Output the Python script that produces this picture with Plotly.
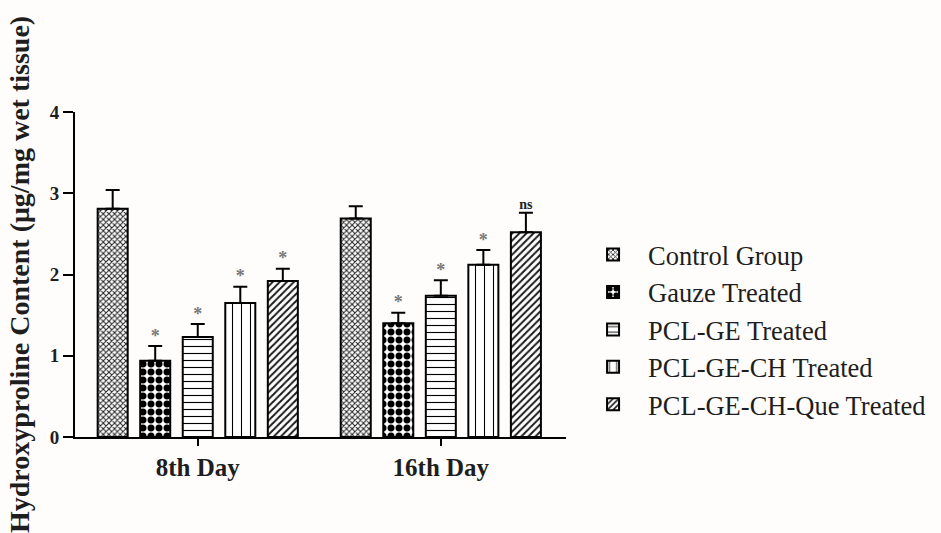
import plotly.graph_objects as go

# Hydroxyproline content (mean ± SEM) on days 8 and 16
days = ["8th Day", "16th Day"]
groups = ["Control Group", "Gauze Treated", "PCL-GE Treated",
          "PCL-GE-CH Treated", "PCL-GE-CH-Que Treated"]
control_mean = [2.81, 2.69]
control_sem = [0.23, 0.15]
gauze_mean = [0.94, 1.40]
gauze_sem = [0.18, 0.13]
pclge_mean = [1.23, 1.74]
pclge_sem = [0.16, 0.19]
pclgech_mean = [1.65, 2.12]
pclgech_sem = [0.20, 0.18]
que_mean = [1.92, 2.52]
que_sem = [0.15, 0.24]
significance = [["", ""], ["*", "*"], ["*", "*"], ["*", "*"], ["*", "ns"]]

means = [control_mean, gauze_mean, pclge_mean, pclgech_mean, que_mean]
sems = [control_sem, gauze_sem, pclge_sem, pclgech_sem, que_sem]

# fill patterns for each treatment group
patterns = [
    dict(shape="x", size=4, solidity=0.45, fgcolor="#222222", fgopacity=1),
    dict(shape=".", size=8, solidity=0.6, fgcolor="black", fgopacity=1),
    dict(shape="-", size=7, solidity=0.16, fgcolor="black", fgopacity=1),
    dict(shape="|", size=9, solidity=0.12, fgcolor="black", fgopacity=1),
    dict(shape="/", size=5, solidity=0.4, fgcolor="#1a1a1a", fgopacity=1),
]

serif = "Liberation Serif, Times New Roman, serif"
step = 0.175
bar_w = 0.1235
day_pos = list(range(len(days)))

fig = go.Figure()
for i, name in enumerate(groups):
    xs = [d + (i - 2) * step for d in day_pos]
    fig.add_trace(go.Bar(
        x=xs, y=means[i], width=bar_w, name=name,
        marker=dict(color="white", line=dict(color="black", width=2),
                    pattern=patterns[i]),
        error_y=dict(type="data", array=sems[i], arrayminus=[0] * len(days),
                     symmetric=False, color="black", thickness=2, width=7),
    ))

# significance marks above the error bars
for i in range(len(groups)):
    xs = [d + (i - 2) * step for d in day_pos]
    tops = [m + s for m, s in zip(means[i], sems[i])]
    labels = significance[i]
    fig.add_trace(go.Scatter(
        x=xs, y=tops, mode="text", text=labels, textposition="top center",
        textfont=dict(family=serif, size=[18 if t == "*" else 14 for t in labels],
                      color=["#777777" if t == "*" else "#222222" for t in labels],
                      weight="bold"),
        showlegend=False, hoverinfo="skip",
    ))

fig.update_layout(
    width=941, height=533,
    margin=dict(l=75, r=375, t=112, b=96, autoexpand=False),
    paper_bgcolor="#fefdfb", plot_bgcolor="#fefdfb",
    barmode="overlay",
    showlegend=True,
    legend=dict(xref="container", yref="container", x=0.6143, y=0.567,
                xanchor="left", yanchor="top",
                font=dict(family=serif, size=26.5, color="#1e1e1e"),
                itemwidth=60, bgcolor="rgba(0,0,0,0)"),
    xaxis=dict(range=[-0.505, 1.515], tickvals=day_pos, ticktext=days,
               showline=True, linecolor="black", linewidth=2,
               ticks="outside", ticklen=7, tickwidth=2, tickcolor="black",
               showgrid=False, zeroline=False,
               tickfont=dict(family=serif, size=25, color="#1e1e1e", weight="bold")),
    yaxis=dict(range=[0, 4], tickvals=[0, 1, 2, 3, 4],
               showline=True, linecolor="black", linewidth=2,
               ticks="outside", ticklen=10, tickwidth=2, tickcolor="black",
               showgrid=False, zeroline=False,
               tickfont=dict(family=serif, size=19, color="#1e1e1e", weight="bold"),
               title=dict(text="Hydroxyproline Content (μg/mg wet tissue)",
                          font=dict(family=serif, size=28, color="#1e1e1e", weight="bold"),
                          standoff=12)),
)

fig.write_html("out.html")
